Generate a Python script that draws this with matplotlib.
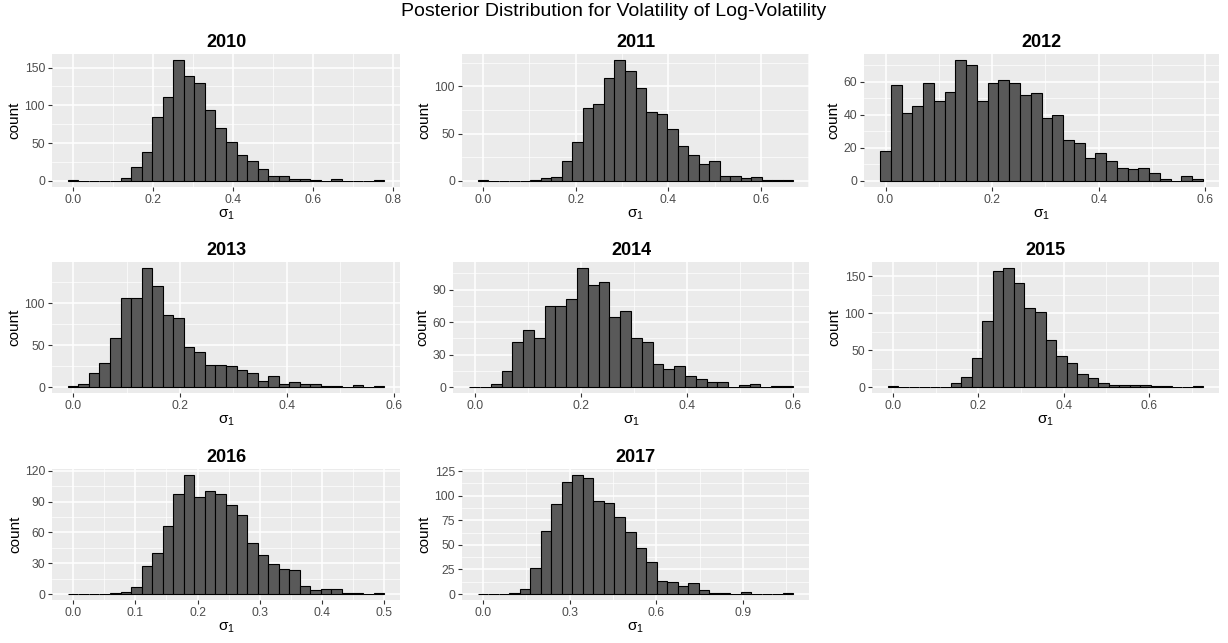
import numpy as np
import matplotlib.pyplot as plt

plt.rcParams['font.family'] = ['Liberation Sans', 'DejaVu Sans']

# posterior draws binned into 30 bins per year (1000 draws each)
years = ['2010', '2011', '2012', '2013', '2014', '2015', '2016', '2017']

# upper edge of the last bin (lower edge follows from ggplot's centring on 0)
bin_hi = [0.777, 0.669, 0.596, 0.582, 0.600, 0.727, 0.500, 1.074]

counts_2010 = [1, 0, 0, 0, 0, 4, 18, 38, 85, 111, 160, 139, 129, 94, 70,
               52, 35, 26, 16, 6, 7, 2, 2, 1, 0, 3, 0, 0, 0, 1]
counts_2011 = [1, 0, 0, 0, 0, 1, 3, 4, 21, 41, 77, 81, 109, 128, 116,
               98, 73, 71, 55, 37, 28, 18, 21, 5, 5, 3, 4, 1, 1, 1]
counts_2012 = [18, 58, 41, 45, 59, 48, 54, 73, 70, 48, 59, 61, 59, 52, 53,
               38, 40, 25, 23, 14, 17, 12, 8, 7, 8, 5, 1, 0, 3, 1]
counts_2013 = [1, 4, 17, 29, 59, 106, 106, 142, 121, 86, 82, 48, 42, 26, 26,
               25, 20, 17, 7, 13, 4, 6, 4, 4, 1, 1, 0, 2, 0, 1]
counts_2014 = [0, 0, 3, 15, 42, 53, 45, 75, 75, 81, 110, 94, 97, 65, 70,
               45, 42, 21, 17, 19, 10, 7, 5, 5, 0, 2, 3, 0, 1, 1]
counts_2015 = [1, 0, 0, 0, 0, 0, 5, 14, 39, 89, 157, 161, 140, 107, 101,
               64, 42, 33, 17, 12, 6, 3, 3, 3, 3, 2, 1, 0, 0, 1]
counts_2016 = [0, 0, 0, 0, 1, 2, 7, 27, 40, 66, 97, 116, 95, 100, 97,
               87, 77, 50, 38, 29, 24, 23, 8, 4, 5, 5, 1, 1, 0, 1]
counts_2017 = [0, 0, 0, 1, 5, 26, 64, 91, 114, 121, 118, 95, 93, 78, 63,
               47, 33, 13, 12, 8, 11, 4, 1, 1, 0, 2, 0, 0, 0, 1]

all_counts = [counts_2010, counts_2011, counts_2012, counts_2013,
              counts_2014, counts_2015, counts_2016, counts_2017]

x_ticks = [[0, 0.2, 0.4, 0.6, 0.8], [0, 0.2, 0.4, 0.6], [0, 0.2, 0.4, 0.6],
           [0, 0.2, 0.4, 0.6], [0, 0.2, 0.4, 0.6], [0, 0.2, 0.4, 0.6],
           [0, 0.1, 0.2, 0.3, 0.4, 0.5], [0, 0.3, 0.6, 0.9]]
y_ticks = [[0, 50, 100, 150], [0, 50, 100], [0, 20, 40, 60], [0, 50, 100],
           [0, 30, 60, 90], [0, 50, 100, 150], [0, 30, 60, 90, 120],
           [0, 25, 50, 75, 100, 125]]

# panel boxes in pixels: left, top, right, bottom
W, H = 1228, 643
boxes = [(52, 54, 400, 187), (462, 54, 809, 187), (864, 54, 1219, 187),
         (52, 262, 400, 393), (453, 262, 809, 393), (872, 262, 1219, 393),
         (52, 469, 400, 600), (462, 469, 809, 600)]


def minor_breaks(major, lim):
    # midpoints between majors, extended one step each side, kept inside limits
    step = major[1] - major[0]
    ext = [major[0] - step] + list(major) + [major[-1] + step]
    mids = [(a + c) / 2 for a, c in zip(ext[:-1], ext[1:])]
    return [m for m in mids if lim[0] <= m <= lim[1]]


fig = plt.figure(figsize=(W / 100, H / 100), dpi=100)
fig.text(0.5, 1 - 12 / H, 'Posterior Distribution for Volatility of Log-Volatility',
         ha='center', va='center', fontsize=14)

for i, yr in enumerate(years):
    l, t, r, b = boxes[i]
    ax = fig.add_axes([l / W, 1 - b / H, (r - l) / W, (b - t) / H])
    hi = bin_hi[i]
    lo = -hi / 59
    edges = np.linspace(lo, hi, 31)
    w = edges[1] - edges[0]
    ax.bar(edges[:-1], all_counts[i], width=w, align='edge', color='#595959',
           edgecolor='black', linewidth=0.8, zorder=3)

    span = hi - lo
    xlim = (lo - 0.05 * span, hi + 0.05 * span)
    ymax = max(all_counts[i])
    ylim = (-0.05 * ymax, 1.05 * ymax)

    ax.set_facecolor('#EBEBEB')
    xt = x_ticks[i]
    yt = y_ticks[i]
    ax.set_xticks(xt)
    ax.set_xticklabels(['%.1f' % v for v in xt])
    ax.set_yticks(yt)
    ax.set_xticks(minor_breaks(xt, xlim), minor=True)
    ax.set_yticks(minor_breaks(yt, ylim), minor=True)
    ax.set_xlim(xlim)
    ax.set_ylim(ylim)
    ax.grid(which='major', color='white', linewidth=1.1, zorder=0)
    ax.grid(which='minor', color='white', linewidth=0.5, zorder=0)
    ax.set_axisbelow(True)
    ax.tick_params(which='major', length=3, width=0.8, color='#333333',
                   labelcolor='#4D4D4D', labelsize=8.8, pad=2)
    ax.tick_params(which='minor', length=0)
    for s in ax.spines.values():
        s.set_visible(False)

    ax.set_title(yr, fontsize=13, fontweight='bold', pad=5)
    ax.set_xlabel(r'$\mathregular{\sigma_1}$', fontsize=11, labelpad=1)
    ax.set_ylabel('count', fontsize=11, labelpad=2)

plt.savefig('out.png', dpi=100)
